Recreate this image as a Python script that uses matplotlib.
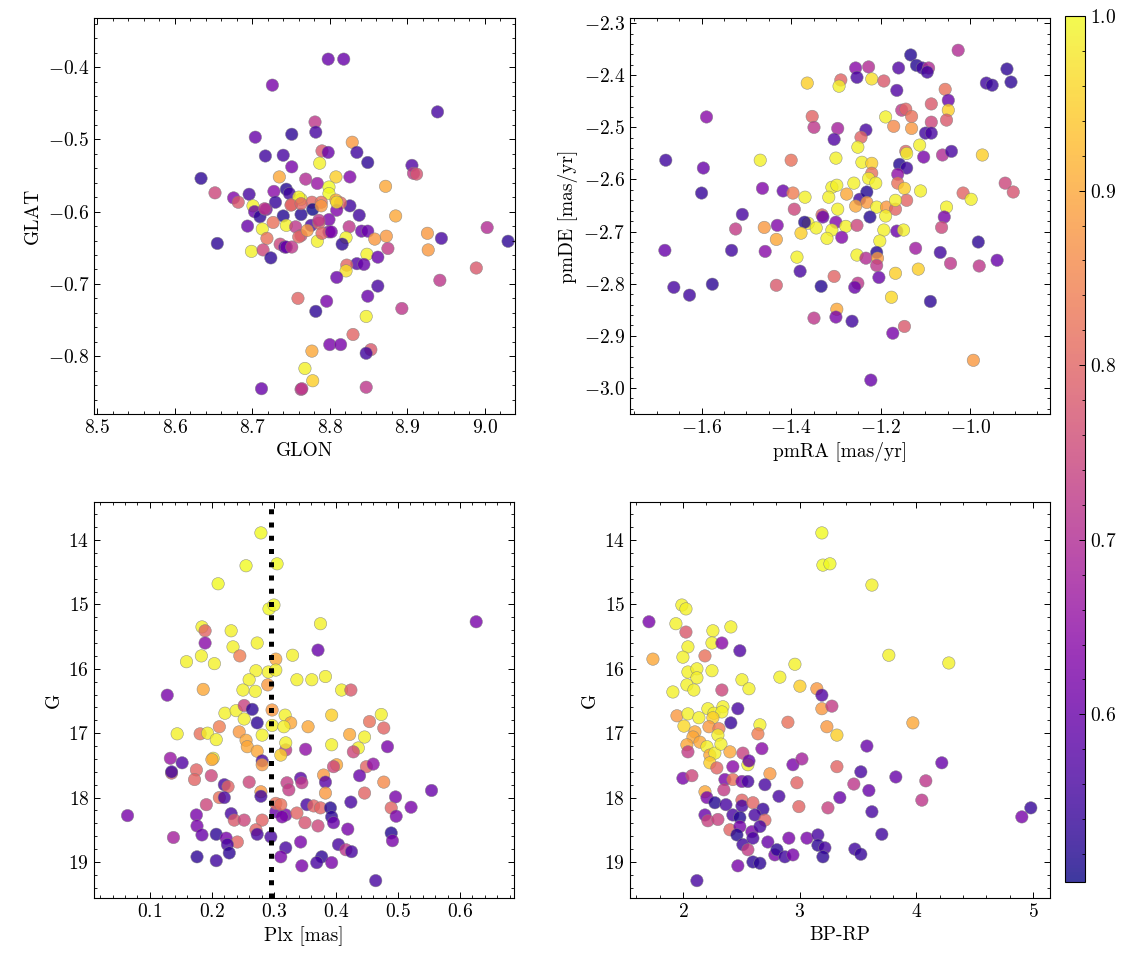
import matplotlib
matplotlib.use("Agg")
import matplotlib.pyplot as plt
from matplotlib.colors import Normalize
from matplotlib.ticker import MultipleLocator, AutoMinorLocator

# ---- panel 1: GLON / GLAT ----
glon = [8.726, 8.704, 8.751, 8.717, 8.740, 8.751, 8.634, 8.735, 8.652, 8.676,
        8.682, 8.696, 8.728, 8.744, 8.730, 8.701, 8.703, 8.710, 8.718, 8.740,
        8.694, 8.713, 8.727, 8.744, 8.719, 8.655, 8.699, 8.714, 8.736, 8.742,
        8.724, 8.759, 8.712, 8.763, 8.798, 8.818, 8.939, 8.781, 8.782, 8.829,
        8.790, 8.798, 8.835, 8.849, 8.787, 8.906, 8.908, 8.912, 8.808, 8.826,
        8.769, 8.784, 8.799, 8.799, 8.872, 8.748, 8.763, 8.777, 8.789, 8.808,
        8.826, 8.814, 8.751, 8.763, 8.778, 8.809, 8.799, 8.838, 8.885, 8.776,
        8.756, 8.825, 8.786, 8.763, 8.799, 8.841, 8.849, 9.003, 8.926, 8.944,
        9.030, 8.784, 8.821, 8.816, 8.858, 8.873, 8.875, 8.744, 8.927, 8.848,
        8.862, 8.989, 8.835, 8.844, 8.822, 8.821, 8.809, 8.942, 8.862, 8.849,
        8.796, 8.782, 8.893, 8.847, 8.830, 8.800, 8.814, 8.853, 8.847, 8.777,
        8.768, 8.778, 8.764, 8.847, 8.760, 8.750, 8.763, 8.789, 8.809, 8.716,
        8.786, 8.751, 8.760, 8.771, 8.790, 8.802]
glat = [-0.425, -0.497, -0.493, -0.523, -0.522, -0.538, -0.554, -0.552, -0.574, -0.581,
        -0.587, -0.576, -0.572, -0.569, -0.587, -0.592, -0.600, -0.607, -0.597, -0.606,
        -0.620, -0.624, -0.615, -0.619, -0.637, -0.644, -0.655, -0.653, -0.645, -0.649,
        -0.664, -0.720, -0.845, -0.846, -0.389, -0.389, -0.462, -0.476, -0.490, -0.504,
        -0.516, -0.518, -0.518, -0.532, -0.533, -0.536, -0.547, -0.548, -0.552, -0.552,
        -0.555, -0.561, -0.566, -0.575, -0.565, -0.575, -0.583, -0.587, -0.587, -0.584,
        -0.592, -0.588, -0.590, -0.604, -0.597, -0.598, -0.611, -0.605, -0.606, -0.619,
        -0.621, -0.621, -0.616, -0.633, -0.628, -0.627, -0.627, -0.622, -0.630, -0.637,
        -0.641, -0.641, -0.636, -0.645, -0.638, -0.634, -0.651, -0.649, -0.653, -0.659,
        -0.663, -0.678, -0.672, -0.673, -0.674, -0.682, -0.691, -0.695, -0.703, -0.717,
        -0.724, -0.738, -0.734, -0.745, -0.770, -0.784, -0.784, -0.791, -0.796, -0.793,
        -0.817, -0.834, -0.845, -0.843, -0.580, -0.591, -0.589, -0.592, -0.587, -0.596,
        -0.612, -0.649, -0.635, -0.626, -0.630, -0.628]
prob_pos = [0.62, 0.60, 0.53, 0.55, 0.56, 0.62, 0.53, 0.90, 0.75, 0.63,
            0.78, 0.56, 0.64, 0.52, 0.54, 0.99, 0.60, 0.53, 0.62, 0.52,
            0.60, 0.99, 0.82, 0.99, 0.82, 0.53, 0.99, 0.75, 0.75, 0.57,
            0.53, 0.80, 0.60, 0.72, 0.60, 0.60, 0.56, 0.72, 0.56, 0.88,
            0.78, 0.60, 0.55, 0.53, 0.99, 0.57, 0.72, 0.77, 0.95, 0.63,
            0.70, 0.66, 1.00, 1.00, 0.90, 0.55, 0.99, 0.80, 0.82, 0.90,
            0.55, 0.80, 0.80, 0.52, 0.50, 0.63, 0.62, 0.55, 0.90, 0.56,
            0.72, 0.72, 0.80, 0.75, 0.62, 0.60, 0.60, 0.70, 0.88, 0.56,
            0.53, 0.99, 0.99, 0.53, 0.88, 0.88, 0.73, 0.60, 0.88, 0.99,
            0.60, 0.78, 0.57, 0.60, 0.80, 0.97, 0.60, 0.72, 0.56, 0.60,
            0.62, 0.53, 0.72, 0.99, 0.80, 0.62, 0.62, 0.78, 0.55, 0.90,
            0.99, 0.95, 0.72, 0.72, 0.99, 0.80, 0.80, 0.88, 0.97, 0.72,
            0.72, 0.72, 0.80, 0.88, 0.80, 0.62]

# ---- panel 2: proper motions ----
pmra = [-1.364, -1.589, -1.353, -1.349, -1.680, -1.469, -1.400, -1.596, -1.464, -1.418,
        -1.600, -1.396, -1.369, -1.509, -1.393, -1.524, -1.460, -1.431, -1.362, -1.370,
        -1.378, -1.433, -1.533, -1.458, -1.682, -1.387, -1.380, -1.662, -1.576, -1.433,
        -1.627, -1.349, -1.027, -1.133, -1.256, -1.227, -1.160, -1.120, -1.107, -1.093,
        -1.096, -1.253, -0.918, -0.964, -0.951, -0.909, -1.289, -1.293, -1.220, -1.193,
        -1.164, -1.056, -1.049, -1.049, -1.087, -1.153, -1.144, -1.131, -1.189, -1.087,
        -1.053, -1.171, -1.131, -1.100, -1.087, -1.296, -1.304, -1.233, -1.244, -1.251,
        -1.113, -1.144, -1.142, -1.104, -1.062, -1.042, -0.973, -1.300, -1.242, -1.220,
        -1.158, -1.142, -1.220, -1.162, -1.260, -1.227, -1.211, -1.162, -1.147, -1.111,
        -0.922, -0.904, -1.016, -0.998, -1.309, -1.298, -1.276, -1.316, -1.247, -1.231,
        -1.231, -1.256, -1.296, -1.209, -1.187, -1.167, -1.142, -1.167, -1.053, -1.058,
        -1.064, -1.224, -1.189, -1.331, -1.329, -1.300, -1.344, -1.309, -1.278, -1.253,
        -1.320, -1.287, -1.193, -1.164, -1.149, -1.202, -0.982, -1.209, -1.253, -1.233,
        -1.207, -1.209, -1.122, -1.067, -1.044, -0.980, -0.940, -1.167, -1.116, -1.304,
        -1.251, -1.258, -1.204, -1.333, -1.176, -1.089, -1.298, -1.300, -1.264, -1.173,
        -1.147, -0.993, -1.222]
pmde = [-2.415, -2.480, -2.479, -2.500, -2.563, -2.563, -2.563, -2.578, -2.617, -2.622,
        -2.626, -2.626, -2.634, -2.667, -2.657, -2.695, -2.692, -2.688, -2.684, -2.682,
        -2.703, -2.715, -2.736, -2.738, -2.736, -2.749, -2.776, -2.807, -2.801, -2.803,
        -2.822, -2.866, -2.352, -2.361, -2.386, -2.384, -2.386, -2.381, -2.386, -2.386,
        -2.394, -2.404, -2.388, -2.415, -2.419, -2.413, -2.409, -2.421, -2.407, -2.411,
        -2.429, -2.427, -2.448, -2.467, -2.455, -2.467, -2.465, -2.479, -2.480, -2.490,
        -2.486, -2.498, -2.502, -2.511, -2.511, -2.502, -2.523, -2.505, -2.519, -2.538,
        -2.534, -2.546, -2.550, -2.557, -2.553, -2.546, -2.553, -2.559, -2.567, -2.569,
        -2.571, -2.578, -2.588, -2.590, -2.607, -2.598, -2.607, -2.607, -2.617, -2.622,
        -2.607, -2.624, -2.626, -2.638, -2.615, -2.611, -2.628, -2.634, -2.638, -2.624,
        -2.644, -2.651, -2.657, -2.653, -2.653, -2.657, -2.640, -2.640, -2.653, -2.672,
        -2.692, -2.672, -2.670, -2.668, -2.672, -2.682, -2.693, -2.697, -2.690, -2.688,
        -2.713, -2.711, -2.697, -2.699, -2.697, -2.718, -2.720, -2.740, -2.745, -2.751,
        -2.751, -2.765, -2.732, -2.740, -2.761, -2.766, -2.755, -2.780, -2.772, -2.786,
        -2.799, -2.807, -2.788, -2.805, -2.826, -2.834, -2.849, -2.864, -2.872, -2.895,
        -2.882, -2.947, -2.985]
prob_pm = [0.95, 0.64, 0.80, 0.72, 0.55, 0.99, 0.82, 0.60, 0.63, 0.60,
           0.54, 0.84, 0.99, 0.56, 0.75, 0.73, 0.88, 0.63, 0.99, 0.52,
           0.95, 0.90, 0.55, 0.64, 0.60, 0.99, 0.56, 0.56, 0.53, 0.78,
           0.55, 0.72, 0.70, 0.52, 0.64, 0.70, 0.57, 0.52, 0.55, 0.70,
           0.55, 0.56, 0.53, 0.55, 0.54, 0.53, 0.80, 0.99, 0.97, 0.78,
           0.57, 0.82, 0.60, 0.95, 0.78, 0.72, 0.80, 0.82, 0.99, 0.75,
           0.78, 0.86, 0.88, 0.55, 0.56, 0.68, 0.57, 0.56, 0.80, 0.99,
           0.99, 0.80, 0.99, 0.62, 0.70, 0.56, 0.95, 0.99, 0.99, 0.95,
           0.52, 0.55, 0.82, 0.65, 0.99, 0.99, 0.99, 0.82, 0.95, 0.99,
           0.75, 0.77, 0.80, 0.99, 0.99, 0.99, 0.90, 0.99, 0.55, 0.52,
           0.88, 0.90, 0.99, 0.99, 0.88, 0.80, 0.80, 0.99, 0.99, 0.62,
           0.75, 0.52, 0.99, 0.80, 0.60, 0.63, 0.99, 0.99, 0.99, 0.75,
           0.99, 0.63, 0.99, 0.60, 0.99, 0.99, 0.53, 0.52, 0.99, 0.70,
           0.88, 0.72, 0.67, 0.55, 0.72, 0.72, 0.60, 0.95, 0.95, 0.80,
           0.72, 0.60, 0.60, 0.52, 0.96, 0.53, 0.90, 0.62, 0.55, 0.62,
           0.78, 0.88, 0.60]

# ---- panel 3: parallax / G ----
plx = [0.279, 0.255, 0.305, 0.210, 0.292, 0.300, 0.184, 0.189, 0.189, 0.231,
       0.234, 0.245, 0.273, 0.159, 0.183, 0.204, 0.303, 0.271, 0.291, 0.303,
       0.260, 0.250, 0.270, 0.186, 0.128, 0.290, 0.221, 0.239, 0.252, 0.265,
       0.273, 0.252, 0.297, 0.144, 0.181, 0.193, 0.212, 0.207, 0.244, 0.255,
       0.257, 0.273, 0.281, 0.297, 0.202, 0.200, 0.133, 0.135, 0.135, 0.152,
       0.175, 0.172, 0.199, 0.281, 0.281, 0.220, 0.226, 0.260, 0.212, 0.220,
       0.279, 0.279, 0.191, 0.175, 0.064, 0.231, 0.236, 0.252, 0.281, 0.176,
       0.184, 0.138, 0.207, 0.223, 0.241, 0.225, 0.228, 0.271, 0.273, 0.295,
       0.176, 0.207, 0.319, 0.311, 0.303, 0.319, 0.319, 0.319, 0.311, 0.321,
       0.324, 0.303, 0.311, 0.375, 0.371, 0.626, 0.330, 0.337, 0.361, 0.383,
       0.409, 0.424, 0.318, 0.327, 0.316, 0.355, 0.393, 0.454, 0.473, 0.477,
       0.422, 0.446, 0.436, 0.428, 0.393, 0.351, 0.483, 0.401, 0.396, 0.449,
       0.460, 0.438, 0.380, 0.383, 0.383, 0.343, 0.345, 0.477, 0.446, 0.554,
       0.496, 0.424, 0.353, 0.364, 0.375, 0.391, 0.489, 0.521, 0.337, 0.313,
       0.393, 0.396, 0.497, 0.350, 0.371, 0.419, 0.489, 0.491, 0.343, 0.404,
       0.416, 0.425, 0.377, 0.369, 0.393, 0.345, 0.464]
g_plx = [13.89, 14.40, 14.37, 14.68, 15.07, 15.01, 15.35, 15.41, 15.60, 15.41,
         15.66, 15.80, 15.60, 15.89, 15.80, 15.92, 15.85, 16.03, 16.05, 16.02,
         16.17, 16.33, 16.35, 16.32, 16.41, 16.25, 16.69, 16.65, 16.57, 16.63,
         16.84, 16.78, 16.64, 17.01, 17.01, 17.00, 16.90, 17.10, 16.98, 17.11,
         17.21, 17.28, 17.03, 16.88, 17.39, 17.41, 17.39, 17.62, 17.60, 17.46,
         17.57, 17.72, 17.66, 17.43, 17.49, 17.80, 17.83, 17.76, 18.00, 18.00,
         17.91, 17.98, 18.11, 18.27, 18.28, 18.25, 18.35, 18.35, 18.35, 18.44,
         18.58, 18.62, 18.57, 18.63, 18.69, 18.73, 18.86, 18.50, 18.57, 18.61,
         18.92, 18.98, 18.78, 18.92, 18.22, 18.27, 17.26, 17.15, 17.34, 17.77,
         17.88, 18.09, 18.11, 15.30, 15.71, 15.27, 15.79, 16.17, 16.17, 16.12,
         16.33, 16.33, 16.72, 16.84, 16.90, 16.90, 16.72, 16.82, 16.71, 16.92,
         17.02, 17.06, 17.23, 17.29, 17.18, 17.25, 17.21, 17.49, 17.52, 17.52,
         17.48, 17.66, 17.65, 17.76, 17.93, 17.70, 17.77, 17.76, 17.93, 17.89,
         17.99, 18.07, 18.11, 18.13, 18.16, 18.16, 18.16, 18.15, 18.24, 18.30,
         18.30, 18.39, 18.29, 18.39, 18.44, 18.49, 18.55, 18.67, 18.69, 18.73,
         18.81, 18.84, 18.92, 19.01, 19.01, 19.06, 19.29]
prob_plx = [1.00, 1.00, 1.00, 1.00, 1.00, 1.00, 0.99, 0.80, 0.64, 0.99,
            0.99, 0.84, 0.99, 0.99, 0.99, 0.99, 0.90, 0.99, 0.99, 0.99,
            0.99, 0.99, 0.99, 0.90, 0.62, 0.88, 0.99, 0.99, 0.74, 0.53,
            0.53, 0.99, 0.88, 0.99, 0.82, 0.99, 0.84, 0.99, 0.88, 0.90,
            0.90, 0.90, 0.99, 0.99, 0.99, 0.90, 0.66, 0.80, 0.55, 0.57,
            0.80, 0.80, 0.75, 0.56, 0.88, 0.56, 0.80, 0.75, 0.82, 0.56,
            0.88, 0.55, 0.75, 0.62, 0.62, 0.56, 0.78, 0.75, 0.80, 0.62,
            0.60, 0.68, 0.53, 0.62, 0.80, 0.56, 0.53, 0.80, 0.56, 0.56,
            0.53, 0.55, 0.56, 0.62, 0.60, 0.62, 0.72, 0.99, 0.95, 0.73,
            0.73, 0.82, 0.82, 0.99, 0.60, 0.62, 0.99, 0.99, 0.99, 0.99,
            0.99, 0.78, 0.99, 0.90, 0.99, 0.90, 0.95, 0.82, 0.99, 0.80,
            0.90, 0.99, 0.99, 0.75, 0.99, 0.65, 0.62, 0.90, 0.75, 0.80,
            0.65, 0.60, 0.88, 0.58, 0.88, 0.58, 0.72, 0.86, 0.80, 0.60,
            0.62, 0.56, 0.56, 0.80, 0.80, 0.52, 0.80, 0.62, 0.80, 0.62,
            0.53, 0.60, 0.62, 0.77, 0.75, 0.62, 0.52, 0.62, 0.62, 0.56,
            0.72, 0.56, 0.53, 0.56, 0.62, 0.62, 0.56]
plx_cut = 0.295

# ---- panel 4: colour-magnitude ----
bp_rp = [3.191, 3.200, 3.260, 1.991, 2.026, 1.709, 1.940, 2.026, 2.257, 2.411,
         2.249, 2.334, 2.488, 2.043, 1.743, 2.000, 2.189, 2.043, 2.120, 2.120,
         2.249, 2.034, 2.094, 1.914, 2.506, 2.566, 2.334, 2.831, 2.960, 3.003,
         3.148, 3.191, 3.191, 3.277, 2.471, 2.411, 1.949, 2.043, 2.137, 2.214,
         2.266, 2.343, 2.334, 2.257, 2.009, 2.103, 2.086, 2.223, 2.309, 2.300,
         2.900, 2.660, 2.643, 3.234, 3.320, 2.034, 2.146, 2.206, 2.231, 2.274,
         2.326, 2.403, 2.043, 2.231, 2.291, 2.428, 2.514, 2.557, 2.566, 2.677,
         2.943, 3.020, 2.746, 3.320, 2.000, 2.077, 2.360, 2.428, 2.506, 2.557,
         2.703, 2.977, 2.189, 2.206, 2.351, 2.823, 2.274, 2.369, 2.506, 2.506,
         2.600, 2.686, 2.994, 2.189, 2.214, 2.300, 2.428, 2.488, 2.617, 2.703,
         2.403, 2.488, 2.591, 2.660, 2.463, 2.514, 2.600, 2.557, 2.728, 2.788,
         2.806, 2.908, 2.874, 2.943, 3.063, 2.600, 2.660, 2.471, 3.157, 3.157,
         3.217, 3.200, 2.120, 3.345, 3.620, 3.765, 4.279, 3.971, 3.577, 4.219,
         3.525, 3.825, 3.465, 4.082, 3.594, 4.048, 3.243, 4.982, 4.905, 3.620,
         3.705, 3.474, 3.525]
g_cmd = [13.89, 14.39, 14.37, 15.01, 15.07, 15.27, 15.30, 15.43, 15.41, 15.35,
         15.60, 15.60, 15.72, 15.66, 15.85, 15.82, 15.80, 16.05, 16.00, 16.14,
         16.03, 16.25, 16.33, 16.36, 16.17, 16.31, 16.33, 16.13, 15.93, 16.27,
         16.31, 16.41, 16.62, 16.58, 16.62, 16.84, 16.73, 16.70, 16.76, 16.62,
         16.69, 16.59, 16.67, 16.76, 16.89, 16.98, 17.06, 16.90, 16.93, 17.03,
         16.83, 16.87, 17.01, 16.90, 17.03, 17.18, 17.14, 17.21, 17.34, 17.31,
         17.17, 17.29, 17.29, 17.46, 17.54, 17.52, 17.31, 17.49, 17.43, 17.24,
         17.49, 17.40, 17.63, 17.52, 17.70, 17.66, 17.72, 17.72, 17.75, 17.75,
         17.80, 17.77, 17.91, 18.00, 17.88, 17.98, 18.08, 18.11, 18.04, 18.13,
         18.08, 18.18, 18.14, 18.27, 18.36, 18.34, 18.27, 18.31, 18.27, 18.35,
         18.50, 18.45, 18.53, 18.45, 18.58, 18.73, 18.63, 18.81, 18.69, 18.89,
         18.81, 18.63, 18.92, 18.89, 18.63, 19.00, 19.02, 19.06, 18.58, 18.74,
         18.78, 18.92, 19.29, 18.00, 14.70, 15.79, 15.91, 16.84, 17.20, 17.46,
         17.60, 17.68, 17.79, 17.74, 17.89, 18.04, 18.16, 18.16, 18.30, 18.22,
         18.57, 18.80, 18.88]
prob_cmd = [1.00, 1.00, 1.00, 0.99, 0.99, 0.62, 0.99, 0.78, 0.99, 0.99,
            0.99, 0.64, 0.57, 0.99, 0.90, 0.99, 0.82, 0.99, 0.99, 0.99,
            0.99, 0.99, 0.99, 0.99, 0.99, 0.99, 0.75, 0.99, 0.99, 0.95,
            0.88, 0.57, 0.88, 0.73, 0.56, 0.54, 0.88, 0.99, 0.99, 0.99,
            0.99, 0.99, 0.99, 0.95, 0.96, 0.90, 0.90, 0.88, 0.84, 0.99,
            0.82, 0.99, 0.84, 0.88, 0.95, 0.90, 0.90, 0.99, 0.90, 0.99,
            0.99, 0.90, 0.73, 0.95, 0.80, 0.64, 0.74, 0.99, 0.60, 0.64,
            0.62, 0.68, 0.88, 0.80, 0.62, 0.75, 0.62, 0.82, 0.62, 0.56,
            0.56, 0.80, 0.90, 0.62, 0.73, 0.56, 0.52, 0.56, 0.80, 0.56,
            0.80, 0.54, 0.80, 0.60, 0.74, 0.74, 0.56, 0.52, 0.56, 0.80,
            0.80, 0.62, 0.62, 0.56, 0.52, 0.55, 0.56, 0.73, 0.60, 0.62,
            0.53, 0.62, 0.55, 0.62, 0.62, 0.53, 0.53, 0.62, 0.56, 0.53,
            0.56, 0.53, 0.56, 0.60, 0.99, 0.99, 0.99, 0.90, 0.60, 0.60,
            0.56, 0.60, 0.72, 0.72, 0.60, 0.72, 0.74, 0.54, 0.62, 0.56,
            0.55, 0.55, 0.54]

plt.rcParams.update({
    "font.family": "serif",
    "font.serif": ["cmr10"],
    "mathtext.fontset": "cm",
    "axes.formatter.use_mathtext": True,
    "font.size": 14,
    "axes.linewidth": 0.8,
    "xtick.direction": "in",
    "ytick.direction": "in",
    "xtick.top": True,
    "ytick.right": True,
    "xtick.major.size": 4.5,
    "ytick.major.size": 4.5,
    "xtick.minor.size": 2.3,
    "ytick.minor.size": 2.3,
    "xtick.major.width": 0.7,
    "ytick.major.width": 0.7,
    "xtick.minor.width": 0.6,
    "ytick.minor.width": 0.6,
})

fig = plt.figure(figsize=(11.33, 9.65), dpi=100)
ax1 = fig.add_axes([0.0830, 0.5710, 0.3716, 0.4104])
ax2 = fig.add_axes([0.5560, 0.5710, 0.3707, 0.4104])
ax3 = fig.add_axes([0.0830, 0.0694, 0.3707, 0.4104])
ax4 = fig.add_axes([0.5560, 0.0694, 0.3707, 0.4104])
cax = fig.add_axes([0.9400, 0.0860, 0.0177, 0.8974])

norm = Normalize(vmin=0.504, vmax=1.0)
style = dict(cmap="plasma", norm=norm, s=80, alpha=0.8,
             edgecolors="gray", linewidths=0.4)

sc = ax1.scatter(glon, glat, c=prob_pos, **style)
ax2.scatter(pmra, pmde, c=prob_pm, **style)
ax3.scatter(plx, g_plx, c=prob_plx, **style)
ax3.axvline(plx_cut, color="black", linestyle=":", linewidth=3.6)
ax4.scatter(bp_rp, g_cmd, c=prob_cmd, **style)

ax1.set_xlim(8.496, 9.039)
ax1.set_ylim(-0.880, -0.332)
ax1.set_xlabel("GLON")
ax1.set_ylabel("GLAT")
ax1.xaxis.set_major_locator(MultipleLocator(0.1))
ax1.yaxis.set_major_locator(MultipleLocator(0.1))

ax2.set_xlim(-1.760, -0.822)
ax2.set_ylim(-3.05, -2.29)
ax2.set_xlabel("pmRA [mas/yr]")
ax2.set_ylabel("pmDE [mas/yr]")
ax2.xaxis.set_major_locator(MultipleLocator(0.2))
ax2.yaxis.set_major_locator(MultipleLocator(0.1))

ax3.set_xlim(0.010, 0.687)
ax3.set_ylim(19.56, 13.41)
ax3.set_xlabel("Plx [mas]")
ax3.set_ylabel("G")
ax3.xaxis.set_major_locator(MultipleLocator(0.1))
ax3.yaxis.set_major_locator(MultipleLocator(1))

ax4.set_xlim(1.546, 5.146)
ax4.set_ylim(19.56, 13.41)
ax4.set_xlabel("BP-RP")
ax4.set_ylabel("G")
ax4.xaxis.set_major_locator(MultipleLocator(1))
ax4.yaxis.set_major_locator(MultipleLocator(1))

minor_n = {ax1: (5, 5), ax2: (4, 5), ax3: (5, 5), ax4: (5, 5)}
for ax, (nx, ny) in minor_n.items():
    ax.xaxis.set_minor_locator(AutoMinorLocator(nx))
    ax.yaxis.set_minor_locator(AutoMinorLocator(ny))

cb = fig.colorbar(sc, cax=cax)
cb.set_ticks([0.6, 0.7, 0.8, 0.9, 1.0])
cb.ax.yaxis.set_minor_locator(AutoMinorLocator(5))
cb.ax.tick_params(which="both", direction="in", right=True, left=False)
cb.outline.set_linewidth(0.8)

fig.savefig("out.png", dpi=100)
